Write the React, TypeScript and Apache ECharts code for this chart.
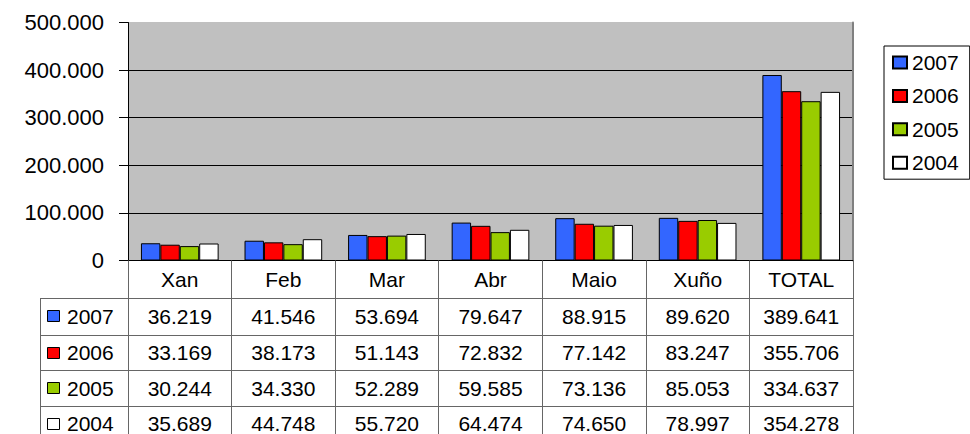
import React, { useEffect, useRef } from "react";
import * as echarts from "echarts";

const categories = ["Xan", "Feb", "Mar", "Abr", "Maio", "Xuño", "TOTAL"];
const years = ["2007", "2006", "2005", "2004"];
const v2007 = [36219, 41546, 53694, 79647, 88915, 89620, 389641];
const v2006 = [33169, 38173, 51143, 72832, 77142, 83247, 355706];
const v2005 = [30244, 34330, 52289, 59585, 73136, 85053, 334637];
const v2004 = [35689, 44748, 55720, 64474, 74650, 78997, 354278];
const seriesValues = [v2007, v2006, v2005, v2004];
const colors = ["#3366FF", "#FF0000", "#99CC00", "#FFFFFF"];
const yMin = 0;
const yMax = 500000;
const yInterval = 100000;

const FONT = "'Liberation Sans', Arial, Helvetica, sans-serif";

const fmt = (n: number) => String(n).replace(/\B(?=(\d{3})+(?!\d))/g, ".");

export default function App() {
  const ref = useRef<HTMLDivElement>(null);

  useEffect(() => {
    if (!ref.current) return;
    const chart = echarts.init(ref.current, null, { renderer: "svg" });
    const option: any = {
      animation: false,
      backgroundColor: "#FFFFFF",
      textStyle: { fontFamily: FONT },
      grid: {
        left: 128,
        top: 22.5,
        width: 725,
        height: 238,
        show: true,
        backgroundColor: "#C0C0C0",
        borderWidth: 0,
      },
      legend: {
        orient: "vertical",
        left: 884,
        top: 46,
        padding: [6, 11, 6, 8],
        itemGap: 12.4,
        itemWidth: 14,
        itemHeight: 12,
        borderColor: "#000",
        borderWidth: 1,
        backgroundColor: "#FFFFFF",
        icon: "rect",
        textStyle: { fontSize: 21, lineHeight: 20, color: "#000", fontFamily: FONT },
        data: years,
      },
      xAxis: {
        type: "category",
        data: categories,
        axisLine: { show: true, lineStyle: { color: "#000", width: 1 } },
        axisTick: { show: true, interval: 0, length: 176, lineStyle: { color: "#666", width: 1 } },
        axisLabel: { interval: 0, fontSize: 21, color: "#000", margin: 8, fontFamily: FONT },
        splitLine: { show: false },
      },
      yAxis: [
        {
          type: "value",
          min: yMin,
          max: yMax,
          interval: yInterval,
          axisLine: { show: true, lineStyle: { color: "#000", width: 1 } },
          axisTick: { show: true, length: 9, lineStyle: { color: "#000" } },
          axisLabel: {
            fontSize: 22,
            color: "#000",
            margin: 24,
            fontFamily: FONT,
            formatter: (v: number) => fmt(v),
          },
          splitLine: {
            show: true,
            lineStyle: { color: ["#000", "#000", "#000", "#000", "#000", "#C0C0C0"], width: 1 },
          },
        },
        {
          type: "value",
          position: "right",
          min: yMin,
          max: yMax,
          interval: yInterval,
          axisLine: { show: true, lineStyle: { color: "#808080", width: 2 } },
          axisTick: { show: false },
          axisLabel: { show: false },
          splitLine: { show: false },
        },
      ],
      series: years.map((y, i) => ({
        name: y,
        type: "bar",
        data: seriesValues[i],
        barGap: "0%",
        barCategoryGap: "25%",
        itemStyle: { color: colors[i], borderColor: "#000", borderWidth: 1 },
      })),
    };
    chart.setOption(option);

    const xs = categories.map((c) => chart.convertToPixel({ xAxisIndex: 0 }, c) as number);
    const rowTops = [298, 334.5, 370, 405.5];
    const rowH = 35.3;
    const tableLeft = 40;
    const tableRight = 853;
    const elements: any[] = [];
    rowTops.forEach((t) => {
      elements.push({
        type: "line",
        silent: true,
        shape: { x1: tableLeft, y1: Math.round(t) + 0.5, x2: tableRight, y2: Math.round(t) + 0.5 },
        style: { stroke: "#666", lineWidth: 1 },
      });
    });
    elements.push({
      type: "line",
      silent: true,
      shape: { x1: tableLeft + 0.5, y1: 298, x2: tableLeft + 0.5, y2: 440 },
      style: { stroke: "#666", lineWidth: 1 },
    });
    years.forEach((y, r) => {
      const cy = rowTops[r] + rowH / 2 + 0.5;
      elements.push({
        type: "rect",
        silent: true,
        shape: { x: 47.5, y: Math.round(cy - 6) + 0.5, width: 12, height: 11 },
        style: { fill: colors[r], stroke: "#000", lineWidth: 1 },
      });
      elements.push({
        type: "text",
        silent: true,
        x: 67,
        y: cy,
        style: {
          text: y,
          fill: "#000",
          fontSize: 21,
          fontFamily: FONT,
          align: "left",
          verticalAlign: "middle",
        },
      });
      seriesValues[r].forEach((v, c) => {
        elements.push({
          type: "text",
          silent: true,
          x: xs[c],
          y: cy,
          style: {
            text: fmt(v),
            fill: "#000",
            fontSize: 21,
            fontFamily: FONT,
            align: "center",
            verticalAlign: "middle",
          },
        });
      });
    });
    chart.setOption({ graphic: { elements } });

    return () => chart.dispose();
  }, []);

  return (
    <div
      ref={ref}
      style={{ position: "fixed", left: 0, top: 0, width: 970, height: 434 }}
    />
  );
}
